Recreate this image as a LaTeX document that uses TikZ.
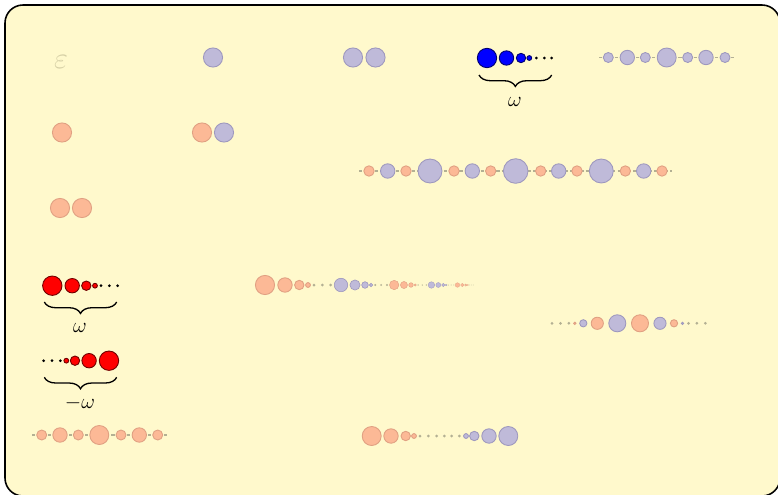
\documentclass[tikz,border=0pt]{standalone}
\usepackage{xcolor}
\usepackage{tikz}
\usetikzlibrary{decorations.pathreplacing, calc}
\usepackage{amsmath}
\usepackage{amssymb}
\definecolor{paperfill}{HTML}{FFF9CC}
\definecolor{peachfill}{HTML}{FCB996}
\definecolor{peachline}{HTML}{E0A082}
\definecolor{lilacfill}{HTML}{BFBAD9}
\definecolor{lilacline}{HTML}{9E98BE}
\definecolor{redfill}{HTML}{FF0000}
\definecolor{redline}{HTML}{6E0000}
\definecolor{bluefill}{HTML}{0000FF}
\definecolor{blueline}{HTML}{00006E}
\definecolor{dotgray}{HTML}{B3B093}
\definecolor{epscolor}{HTML}{D6D0A6}

\begin{document}
\begin{tikzpicture}[
    x=0.02cm, y=-0.02cm,
    bead/.style={circle, draw=#1line, fill=#1fill, line width=0.5pt, inner sep=0pt},
    rad/.style={minimum size=#1*0.04cm},
    pip/.style={circle, fill=#1, inner sep=0pt, minimum size=0.06cm},
    link/.style={draw=dotgray, line width=0.7pt, dash pattern=on 1.8pt off 1.2pt},
    brace/.style={decorate, decoration={brace, mirror, amplitude=6.5pt}, line width=0.75pt},
    ordlabel/.style={font=\large, inner sep=0pt}
]
    \useasboundingbox (0,0) rectangle (778,494);
    \draw[line width=0.9pt, fill=paperfill, rounded corners=0.36cm] (5,5) rectangle (780,496);

    % finite ones
    \node[text=epscolor, font=\LARGE, inner sep=0pt] (eps) at (61,62) {$\varepsilon$};
    \node[bead=lilac, rad=9.6] (one) at (213,57.5) {};
    \node[bead=lilac, rad=9.6] (two1) at (353,57.5) {};
    \node[bead=lilac, rad=9.6] (two2) at (375.5,57.5) {};
    \node[bead=peach, rad=9.6] (pone) at (62,132.5) {};
    \node[bead=peach, rad=9.6] (mix1) at (202,132.5) {};
    \node[bead=lilac, rad=9.6] (mix2) at (224,132.5) {};
    \node[bead=peach, rad=9.6] (ptwo1) at (60,208) {};
    \node[bead=peach, rad=9.6] (ptwo2) at (82,208) {};

    % blue omega
    \foreach \dx/\r [count=\i] in {0/9.7, 19.5/7.2, 34/4.7, 42.3/2.4}
        \node[bead=blue, rad=\r] (bw\i) at (487+\dx,58) {};
    \foreach \dx [count=\i] in {49.3, 57.3, 64.7}
        \node[pip=black] (bwd\i) at (487+\dx,58) {};
    \draw[brace] (479,75) -- (551.7,75);
    \node[ordlabel] (bwlabel) at (515,101.5) {$\omega$};

    % red omega and minus omega
    \foreach \dx/\r [count=\i] in {0/9.7, 19.9/7.2, 34/4.7, 42.7/2.4} {
        \node[bead=red, rad=\r] (rw\i) at (52.3+\dx,285.7) {};
        \node[bead=red, rad=\r] (rm\i) at (109-\dx,360.7) {};
    }
    \foreach \dx [count=\i] in {48.7, 57, 65.4} {
        \node[pip=black] (rwd\i) at (52.3+\dx,285.7) {};
        \node[pip=black] (rmd\i) at (109-\dx,360.7) {};
    }
    \draw[brace] (44.3,302) -- (116.7,302);
    \node[ordlabel] (rwlabel) at (80,328) {$\omega$};
    \draw[brace] (44.3,377.3) -- (116.7,377.3);
    \node[ordlabel] (rmlabel) at (80,403) {$-\omega$};

    % dashed chains
    \coordinate (la0) at (599.3,57.5);
    \coordinate (la9) at (734.3,57.5);
    \draw[link] (la0) -- (la9);
    \foreach \x/\r [count=\i] in {608.3/5, 627.3/7.2, 645.3/5, 666.7/9.5, 687.7/5, 706/7.2, 725/5}
        \node[bead=lilac, rad=\r] (la\i) at (\x,57.5) {};

    \coordinate (pe0) at (32.3,435);
    \coordinate (pe9) at (167.3,435);
    \draw[link] (pe0) -- (pe9);
    \foreach \x/\r [count=\i] in {41.7/5, 60/7.2, 78.3/5, 99.3/9.5, 121/5, 139.3/7.2, 157.7/5}
        \node[bead=peach, rad=\r] (pe\i) at (\x,435) {};

    \coordinate (mx0) at (359.3,171);
    \coordinate (mx99) at (671.7,171);
    \draw[link] (mx0) -- (mx99);
    \foreach \x/\c/\r [count=\i] in {369/peach/5.2, 387.7/lilac/7.2, 406/peach/5.2, 430/lilac/12,
        454/peach/5.2, 472.3/lilac/7.2, 490.7/peach/5.2, 515.7/lilac/12.3, 540.7/peach/5.2,
        558.7/lilac/7.2, 577/peach/5.2, 601.3/lilac/12, 625.3/peach/5.2, 643.7/lilac/7.2, 662/peach/5.2}
        \node[bead=\c, rad=\r] (mx\i) at (\x,171) {};

    % omega squared, shrinking groups
    \foreach \g in {0,...,4} {
        \pgfmathsetmacro{\s}{0.7^\g}
        \pgfmathsetmacro{\xg}{265+253.3*(1-\s)}
        \ifodd\g \def\c{lilac}\else\def\c{peach}\fi
        \foreach \dx/\r [count=\i] in {0/9.6, 20/7.2, 34.3/4.7, 43/2.4}
            \node[bead=\c, rad=\s*\r, line width=\s*0.5pt] (sq\g-\i) at (\xg+\s*\dx,285) {};
        \foreach \dx [count=\i] in {49, 57.3, 65.7}
            \node[pip=dotgray, rad=\s*1.5] (sqd\g-\i) at (\xg+\s*\dx,285) {};
    }

    % omega then minus omega
    \foreach \dx/\r [count=\i] in {0/9.5, 19.3/7.2, 34/4.7, 42.3/2.4} {
        \node[bead=peach, rad=\r] (om\i) at (371.7+\dx,436) {};
        \node[bead=lilac, rad=\r] (mo\i) at (508.3-\dx,436) {};
    }
    \foreach \x [count=\i] in {420, 428.3, 436.7, 444.3, 451.7, 459.3}
        \node[pip=dotgray] (omd\i) at (\x,436) {};

    % minus omega then omega
    \foreach \dx/\cl/\cr [count=\i] in {0/lilac/peach, 20/peach/lilac, 34/lilac/peach, 42.5/peach/lilac} {
        \node[bead=\cl, rad=9.7-2.45*(\i-1)] (zl\i) at (617.3-\dx,323.3) {};
        \node[bead=\cr, rad=9.7-2.45*(\i-1)] (zr\i) at (640+\dx,323.3) {};
    }
    \foreach \dx [count=\i] in {48.5, 56.8, 65.3} {
        \node[pip=dotgray] (zld\i) at (617.3-\dx,323.3) {};
        \node[pip=dotgray] (zrd\i) at (640+\dx,323.3) {};
    }

\end{tikzpicture}
\end{document}
